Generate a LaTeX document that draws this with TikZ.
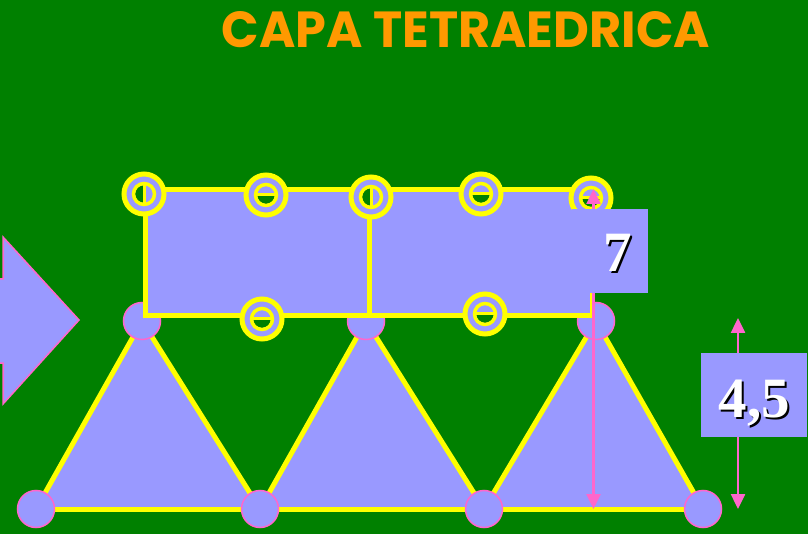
\documentclass[tikz,border=0pt]{standalone}
\usepackage{fontspec}
\usepackage{graphicx}
\setmainfont{Liberation Serif}
\newfontfamily\titlefont{Poppins}
\usetikzlibrary{arrows.meta}
\definecolor{bg}{RGB}{0,128,0}
\definecolor{lav}{RGB}{153,153,255}
\definecolor{yel}{RGB}{255,255,0}
\definecolor{pnk}{RGB}{255,102,204}
\definecolor{org}{RGB}{255,153,0}
\newcommand\orbH[3]{%
  \node[orb] (#1) at (#2,#3) {};
  \begin{scope}[shift={(#1.center)}]
    \fill[bg] (9,0) arc[start angle=0,end angle=180,radius=9] -- cycle;
    \draw[yel,line width=3pt] (-9,0) -- (9,0);
    \draw[yel,line width=3.5pt] (0,0) circle[radius=10.5];
  \end{scope}}
\newcommand\orbV[3]{%
  \node[orb] (#1) at (#2,#3) {};
  \begin{scope}[shift={(#1.center)}]
    \fill[bg] (0,9) arc[start angle=90,end angle=270,radius=9] -- cycle;
    \draw[yel,line width=3pt] (0,-9) -- (0,9);
    \draw[yel,line width=3.5pt] (0,0) circle[radius=10.5];
  \end{scope}}
\newcommand\shadowtxt[1]{\makebox[0pt][l]{\hspace{2pt}\raisebox{-2pt}{\color{black}#1}}#1}
\begin{document}
\begin{tikzpicture}[x=1pt,y=-1pt,
  atom/.style={circle, inner sep=0pt, minimum size=37pt, fill=lav, draw=pnk, line width=1.5pt},
  orb/.style={circle, inner sep=0pt, minimum size=40pt, fill=lav, draw=yel, line width=5pt},
  ybord/.style={draw=yel, line width=5pt, line join=miter},
  dimarrow/.style={draw=pnk, line width=2.5pt, {Triangle[length=15pt,width=14pt]}-{Triangle[length=15pt,width=14pt]}},
  lblbox/.style={fill=lav, inner sep=0pt},
  numtxt/.style={font=\bfseries\fontsize{57}{57}\selectfont, text=white, inner sep=0pt, anchor=base}
]
\useasboundingbox (0,0) rectangle (808,534);
\clip (0,0) rectangle (808,534);
\fill[bg] (0,0) rectangle (808,534);

% title
\node[text=org, inner sep=0pt, anchor=base] (title) at (466,48)
  {\resizebox{488pt}{36pt}{\titlefont\bfseries CAPA TETRAEDRICA}};

% left block arrow
\draw[pnk, fill=lav, line width=1.5pt] (-10,279) -- (3,279) -- (3,237) -- (79,320)
  -- (3,404) -- (3,363) -- (-10,363) -- cycle;

% vertices
\coordinate (b1) at (36,509);
\coordinate (b2) at (260,509);
\coordinate (b3) at (484,509);
\coordinate (b4) at (703,509);
\coordinate (t1) at (142,321);
\coordinate (t2) at (366,321);
\coordinate (t3) at (596,321);

% triangles
\fill[lav] (b1) -- (t1) -- (b2) -- cycle;
\fill[lav] (b2) -- (t2) -- (b3) -- cycle;
\fill[lav] (b3) -- (t3) -- (b4) -- cycle;
\draw[ybord, line join=round] (b1) -- (t1) -- (b2) -- (t2) -- (b3) -- (t3) -- (b4);
\draw[ybord] (b1) -- (b4);

% atoms
\node[atom] (a1) at (t1) {};
\node[atom] (a2) at (t2) {};
\node[atom] (a3) at (t3) {};
\node[atom] (c1) at (b1) {};
\node[atom] (c2) at (b2) {};
\node[atom] (c3) at (b3) {};
\node[atom] (c4) at (b4) {};

% rectangles
\draw[ybord, fill=lav] (145,190) rectangle (369,316);
\draw[ybord, fill=lav] (369,190) rectangle (592,316);

% orbitals
\orbV{o1}{144}{194}
\orbH{o2}{266}{195}
\orbV{o3}{371}{197}
\orbH{o4}{481}{194}
\orbH{o5}{591}{198}
\orbH{o6}{262}{319}
\orbH{o7}{485}{314}

% dimension 7
\coordinate (d7a) at (593.5,189);
\coordinate (d7b) at (593.5,509);
\draw[dimarrow] (d7a) -- (d7b);
\node[lblbox, minimum width=76pt, minimum height=84pt] (box7) at (610,251) {};
\node[numtxt] (seven) at (617.5,272) {\shadowtxt{7}};

% dimension 4,5
\coordinate (d4a) at (738,318);
\coordinate (d4b) at (738,509);
\draw[dimarrow] (d4a) -- (d4b);
\node[lblbox, minimum width=106pt, minimum height=84pt] (box45) at (754,395) {};
\node[numtxt] (fourfive) at (754.5,417) {\shadowtxt{4,5}};
\end{tikzpicture}
\end{document}
